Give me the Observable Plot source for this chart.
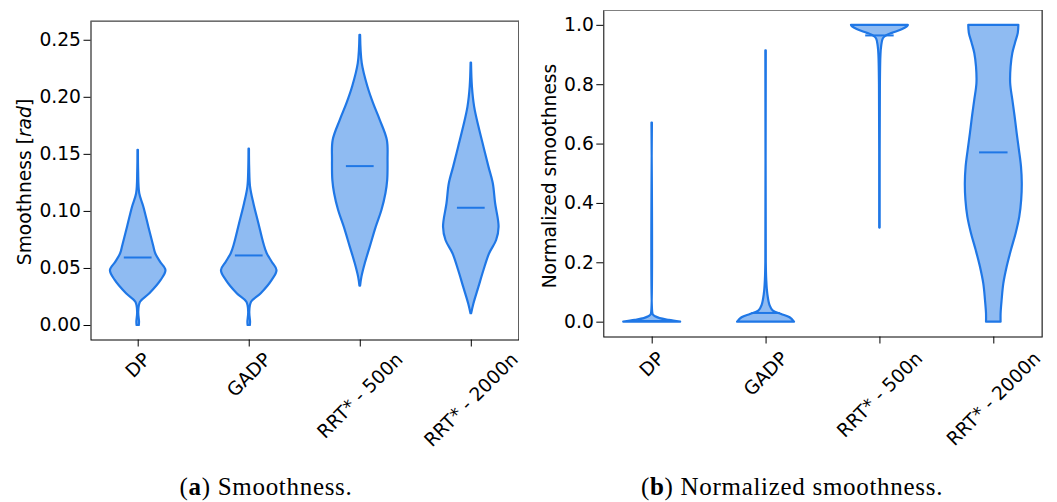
<!DOCTYPE html>
<html>
<head>
<meta charset="utf-8">
<script src="https://cdn.jsdelivr.net/npm/d3@7"></script>
<script src="https://cdn.jsdelivr.net/npm/@observablehq/plot@0.6"></script>
<style>
  html, body { margin: 0; padding: 0; background: #fff; }
  #fig { position: relative; width: 1057px; height: 502px; overflow: hidden; font-family: "DejaVu Sans", sans-serif; }
  #panelA, #panelB { position: absolute; top: 0; }
  #panelA { left: 0; }
  #panelB { left: 530px; }
  .cap { position: absolute; top: 474px; font-family: "Liberation Serif", serif; font-size: 25px; line-height: 25px;
         letter-spacing: 0.7px; white-space: nowrap; transform: translateX(-50%); color: #000; }
</style>
</head>
<body>
<div id="fig">
  <div id="panelA"></div>
  <div id="panelB"></div>
  <div class="cap" style="left:266px">(<b>a</b>) Smoothness.</div>
  <div class="cap" style="left:792px">(<b>b</b>) Normalized smoothness.</div>
</div>
<script>
// Planners compared
const categories = ["DP", "GADP", "RRT* - 500n", "RRT* - 2000n"];

// Violin outlines: [value, half-width] pairs (half-width in category units, max 0.25)
// (a) Smoothness [rad]
const dpSmooth = [[0.000, 0.010], [0.003, 0.012], [0.0117, 0.005], [0.0204, 0.021], [0.0278, 0.105], [0.0395, 0.207],
  [0.0482, 0.25], [0.0555, 0.201], [0.0629, 0.158], [0.0702, 0.138], [0.0862, 0.096], [0.1037, 0.051],
  [0.1155, 0.014], [0.135, 0.004], [0.1535, 0.002]];
const gadpSmooth = [[0.000, 0.010], [0.003, 0.012], [0.0117, 0.005], [0.0204, 0.021], [0.0278, 0.108], [0.0395, 0.207],
  [0.0482, 0.25], [0.0555, 0.207], [0.0629, 0.162], [0.0716, 0.132], [0.0892, 0.087], [0.1067, 0.042],
  [0.1213, 0.012], [0.138, 0.004], [0.1545, 0.002]];
const rrt500Smooth = [[0.0345, 0.003], [0.0424, 0.015], [0.0541, 0.045], [0.0687, 0.09], [0.0862, 0.144], [0.1008, 0.195],
  [0.1155, 0.231], [0.1272, 0.247], [0.1447, 0.25], [0.1622, 0.244], [0.1798, 0.18], [0.1944, 0.12],
  [0.209, 0.069], [0.2295, 0.018], [0.2543, 0.003]];
const rrt2000Smooth = [[0.0103, 0.003], [0.019, 0.024], [0.0336, 0.069], [0.0482, 0.114], [0.0629, 0.165], [0.0745, 0.228],
  [0.0862, 0.25], [0.1067, 0.219], [0.1242, 0.198], [0.1388, 0.159], [0.1563, 0.114], [0.1739, 0.069],
  [0.1914, 0.03], [0.209, 0.01], [0.230, 0.002]];
const smoothMedians = [0.0596, 0.0614, 0.1397, 0.1032];

// (b) Normalized smoothness
const dpNorm = [[0.0, 0.25], [0.006, 0.15], [0.012, 0.07], [0.018, 0.03], [0.024, 0.01], [0.035, 0.004], [0.671, 0.002]];
const gadpNorm = [[0.0, 0.25], [0.0148, 0.211], [0.026, 0.137], [0.037, 0.064], [0.056, 0.035], [0.095, 0.015],
  [0.141, 0.006], [0.2, 0.002], [0.914, 0.002]];
const rrt500Norm = [[0.317, 0.002], [0.8, 0.004], [0.9, 0.009], [0.928, 0.015], [0.955, 0.03], [0.965, 0.06],
  [0.973, 0.11], [0.986, 0.2], [0.995, 0.24], [1.0, 0.25]];
const rrt2000Norm = [[0.0, 0.064], [0.028, 0.064], [0.073, 0.073], [0.129, 0.088], [0.185, 0.117], [0.242, 0.155],
  [0.298, 0.196], [0.354, 0.228], [0.411, 0.245], [0.467, 0.25], [0.523, 0.243], [0.579, 0.225], [0.636, 0.205],
  [0.692, 0.187], [0.748, 0.167], [0.804, 0.148], [0.86, 0.152], [0.905, 0.167], [0.939, 0.19], [0.973, 0.215], [1.0, 0.22]];
const normMedians = [0.004, 0.031, 0.966, 0.572];

// Axis ticks
const smoothTicks = [0, 0.05, 0.10, 0.15, 0.20, 0.25];
const normTicks = [0, 0.2, 0.4, 0.6, 0.8, 1.0];

const blue = "#1f77e6";
const fontSize = 18.7;
const xDomain = [0.575, 4.425];

const ctx = document.createElement("canvas").getContext("2d");
ctx.font = `${fontSize}px "DejaVu Sans"`;
const textWidth = s => ctx.measureText(s).width;

function violinPanel({profiles, medians, yDomain, yTicks, yFormat, width, height, margin, labelGap, yLabel, yLabelX, yLabelY}) {
  const rows = profiles.flatMap((p, i) => p.map(([v, w]) => ({cat: categories[i], pos: i + 1, v, w})));
  const meds = medians.map((v, i) => ({pos: i + 1, v}));
  const capH = 0.73 * fontSize;
  const labels = categories.map((c, i) =>
    Plot.text([c], {
      x: i + 1, frameAnchor: "bottom", text: d => d, rotate: -45,
      textAnchor: "middle", lineAnchor: "middle", fontSize, fill: "black",
      dy: labelGap + (textWidth(c) + capH) * Math.SQRT1_2 / 2
    }));
  const svg = Plot.plot({
    width, height,
    marginLeft: margin.left, marginRight: margin.right, marginTop: margin.top, marginBottom: margin.bottom,
    style: {fontFamily: '"DejaVu Sans", sans-serif', fontSize: `${fontSize}px`, color: "black", background: "white", overflow: "visible"},
    x: {domain: xDomain},
    y: {domain: yDomain},
    marks: [
      Plot.areaX(rows, {
        y: "v", x1: d => d.pos - d.w, x2: d => d.pos + d.w, z: "cat",
        fill: blue, fillOpacity: 0.5, stroke: blue, strokeWidth: 2.2, strokeLinejoin: "round", curve: "catmull-rom"
      }),
      Plot.ruleY(meds, {y: "v", x1: d => d.pos - 0.125, x2: d => d.pos + 0.125, stroke: blue, strokeWidth: 2}),
      Plot.frame({stroke: "black", strokeWidth: 1}),
      Plot.ruleY([yDomain[1]], {stroke: "#808080", strokeWidth: 1}),
      Plot.ruleX([xDomain[1]], {stroke: "#606060", strokeWidth: 1}),
      Plot.axisY({ticks: yTicks, tickFormat: d3.format(yFormat), tickSize: 7, tickPadding: 3, fontSize, label: null}),
      Plot.axisX({ticks: [1, 2, 3, 4], tickSize: 7, tickFormat: () => "", label: null}),
      ...labels
    ]
  });
  // Axis title, with the unit set in italics
  const t = d3.select(svg).append("text")
    .attr("transform", `translate(${yLabelX},${yLabelY}) rotate(-90)`)
    .attr("text-anchor", "middle")
    .attr("font-size", fontSize)
    .attr("fill", "black");
  yLabel.forEach(([s, italic]) => {
    const ts = t.append("tspan").text(s);
    if (italic) ts.attr("font-style", "italic");
  });
  return svg;
}

document.getElementById("panelA").append(violinPanel({
  profiles: [dpSmooth, gadpSmooth, rrt500Smooth, rrt2000Smooth],
  medians: smoothMedians,
  yDomain: [-0.0127, 0.2667], yTicks: smoothTicks, yFormat: ".2f",
  width: 528, height: 470,
  margin: {left: 90.5, right: 10, top: 20.7, bottom: 130.5},
  labelGap: 11.5,
  yLabel: [["Smoothness [", false], ["rad", true], ["]", false]],
  yLabelX: 30.5, yLabelY: 182
}));

document.getElementById("panelB").append(violinPanel({
  profiles: [dpNorm, gadpNorm, rrt500Norm, rrt2000Norm],
  medians: normMedians,
  yDomain: [-0.05, 1.05], yTicks: normTicks, yFormat: ".1f",
  width: 527, height: 470,
  margin: {left: 73.3, right: 15.3, top: 10, bottom: 133.5},
  labelGap: 13.5,
  yLabel: [["Normalized smoothness", false]],
  yLabelX: 26, yLabelY: 176
}));
</script>
</body>
</html>
